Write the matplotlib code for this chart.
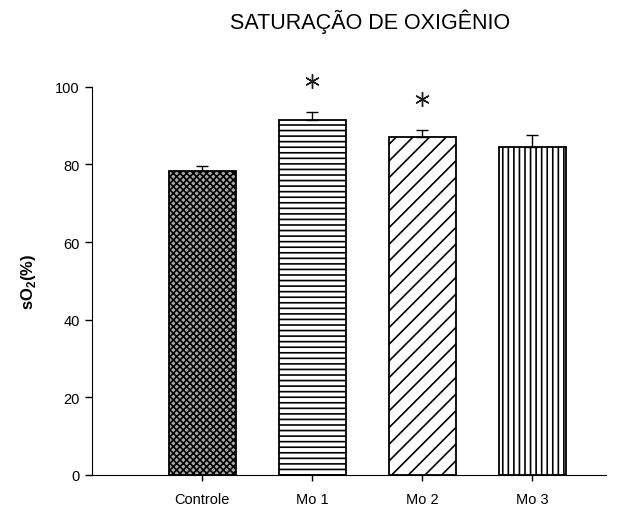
import matplotlib
matplotlib.use("Agg")
from matplotlib import pyplot as plt

groups = ["Controle", "Mo 1", "Mo 2", "Mo 3"]
so2_mean = [78.2, 91.5, 87.1, 84.5]
so2_err = [1.5, 2.1, 1.8, 3.0]
significant = [False, True, True, False]

fills = ["#a8a8a8", "white", "white", "white"]
hatches = ["xxxxx", "---", "//", "|||"]

plt.rcParams["font.family"] = ["Liberation Sans", "DejaVu Sans"]
plt.rcParams["hatch.linewidth"] = 1.2

fig = plt.figure(figsize=(6.32, 5.10), dpi=100)
ax = fig.add_axes([0.1456, 0.0667, 0.8133, 0.7613])

x = list(range(len(groups)))
bars = ax.bar(x, so2_mean, width=0.61, color=fills, edgecolor="black",
              linewidth=1.3, zorder=2)
for bar, h in zip(bars, hatches):
    bar.set_hatch(h)

ax.errorbar(x, so2_mean, yerr=[[0] * len(x), so2_err], fmt="none",
            ecolor="black", elinewidth=1, capsize=4, capthick=1, zorder=3)

# significance stars above the error bars
for xi, m, e, s in zip(x, so2_mean, so2_err, significant):
    if s:
        ax.plot(xi, m + e + 8, marker=(6, 2, 0), markersize=10.5, mew=1.0,
                color="#1a1a1a", clip_on=False, zorder=4)

ax.set_xlim(-1.0, 3.67)
ax.set_ylim(0, 100)
ax.set_yticks([0, 20, 40, 60, 80, 100])
ax.set_xticks(x)
ax.set_xticklabels(groups)
ax.tick_params(axis="both", direction="out", labelsize=10.5, width=1)
ax.tick_params(axis="y", length=5, pad=4)
ax.tick_params(axis="x", length=4, pad=8)
ax.spines["top"].set_visible(False)
ax.spines["right"].set_visible(False)

ax.set_ylabel("sO$_\\mathregular{2}$(%)", fontsize=12, fontweight="bold", labelpad=12)
fig.text(0.585, 0.958, "SATURAÇÃO DE OXIGÊNIO", ha="center", va="center", fontsize=15.5)

fig.savefig("out.png", dpi=100)
